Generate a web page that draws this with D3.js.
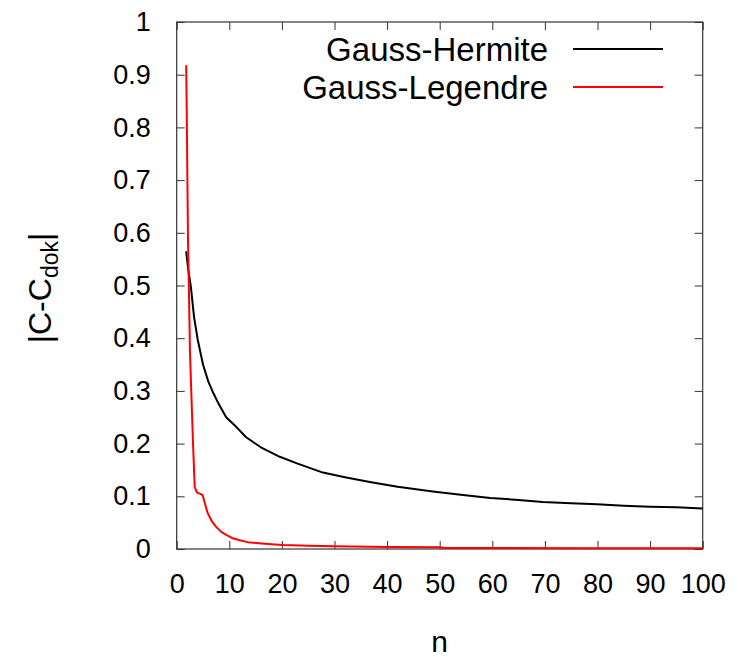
<!DOCTYPE html>
<html>
<head>
<meta charset="utf-8">
<script src="https://cdn.jsdelivr.net/npm/d3@7"></script>
<style>
  body { margin: 0; background: #fff; }
  text { font-family: "Liberation Sans", Arial, sans-serif; fill: #000; }
</style>
</head>
<body>
<div id="chart"></div>
<script>
// Gauss-Hermite error vs n
const hermiteN = [1.8, 2.2, 2.7, 3.3, 4.0, 5, 6, 7, 8, 9.4, 11, 13.2, 16, 19.6, 23, 27.8, 32, 36.7, 42, 48.7, 54, 59.6, 65, 69.6, 75, 79.9, 85, 90, 95, 100];
const hermiteV = [0.565, 0.53, 0.497, 0.44, 0.397, 0.35, 0.318, 0.295, 0.275, 0.25, 0.235, 0.212, 0.193, 0.175, 0.162, 0.145, 0.136, 0.127, 0.118, 0.109, 0.103, 0.097, 0.093, 0.089, 0.087, 0.085, 0.082, 0.080, 0.079, 0.077];

// Gauss-Legendre error vs n
const legendreN = [1.8, 1.9, 2.05, 2.15, 2.53, 2.78, 3.1, 3.42, 3.86, 4.4, 4.94, 5.4, 5.9, 6.6, 7.5, 8.4, 9.4, 10.5, 11.8, 13.5, 15.6, 18, 20.2, 25, 30, 40, 50, 51, 60, 80, 100];
const legendreV = [0.918, 0.839, 0.685, 0.586, 0.372, 0.296, 0.201, 0.118, 0.107, 0.105, 0.102, 0.085, 0.068, 0.054, 0.042, 0.033, 0.027, 0.021, 0.017, 0.013, 0.011, 0.009, 0.0076, 0.006, 0.005, 0.004, 0.0035, 0.002, 0.0018, 0.0015, 0.0012];

const xTicks = [0, 10, 20, 30, 40, 50, 60, 70, 80, 90, 100];
const yTicks = [0, 0.1, 0.2, 0.3, 0.4, 0.5, 0.6, 0.7, 0.8, 0.9, 1];

const seriesNames = ["Gauss-Hermite", "Gauss-Legendre"];
const seriesColors = ["#000000", "#ff0000"];

const width = 738, height = 657;
const margin = { top: 22, right: 35.3, bottom: 108, left: 176.7 };
const innerW = width - margin.left - margin.right;
const innerH = height - margin.top - margin.bottom;

const svg = d3.select("#chart").append("svg")
  .attr("width", width)
  .attr("height", height);

const g = svg.append("g")
  .attr("transform", `translate(${margin.left},${margin.top})`);

const x = d3.scaleLinear().domain([0, 100]).range([0, innerW]);
const y = d3.scaleLinear().domain([0, 1]).range([innerH, 0]);

const tickLen = 8;
const fmtY = (d) => d === 0 || d === 1 ? String(d) : d3.format(".1f")(d);

// Bottom axis (ticks pointing inward)
const xAxisG = g.append("g").attr("transform", `translate(0,${innerH})`)
  .call(d3.axisBottom(x).tickValues(xTicks).tickSize(-tickLen).tickPadding(25).tickFormat(d3.format("d")));
// Top mirror ticks
const xTopG = g.append("g")
  .call(d3.axisTop(x).tickValues(xTicks).tickSize(-tickLen).tickFormat(""));
// Left axis
const yAxisG = g.append("g")
  .call(d3.axisLeft(y).tickValues(yTicks).tickSize(-tickLen).tickPadding(26).tickFormat(fmtY));
// Right mirror ticks
const yRightG = g.append("g").attr("transform", `translate(${innerW},0)`)
  .call(d3.axisRight(y).tickValues(yTicks).tickSize(-tickLen).tickFormat(""));

[xAxisG, xTopG, yAxisG, yRightG].forEach((a) => {
  a.selectAll(".domain").remove();
  a.selectAll(".tick line").attr("stroke", "#333").attr("stroke-width", 1);
  a.selectAll(".tick text")
    .style("font-size", "27px")
    .style("font-family", "'Liberation Sans', Arial, sans-serif")
    .attr("fill", "#000");
});

// Frame
g.append("rect")
  .attr("x", 0).attr("y", 0)
  .attr("width", innerW).attr("height", innerH)
  .attr("fill", "none")
  .attr("stroke", "#333")
  .attr("stroke-width", 1.2);

// Lines
const line = d3.line()
  .x((d) => x(d[0]))
  .y((d) => y(d[1]));

const seriesData = [
  d3.zip(hermiteN, hermiteV),
  d3.zip(legendreN, legendreV)
];

g.append("g").selectAll("path")
  .data(seriesData)
  .join("path")
  .attr("d", line)
  .attr("fill", "none")
  .attr("stroke", (d, i) => seriesColors[i])
  .attr("stroke-width", 2)
  .attr("stroke-linejoin", "round");

// Legend
const legend = g.append("g").attr("transform", `translate(${548 - margin.left},0)`);
seriesNames.forEach((name, i) => {
  const cy = 27 + i * 38;
  legend.append("text")
    .attr("x", 0)
    .attr("y", cy)
    .attr("dy", "0.36em")
    .attr("text-anchor", "end")
    .style("font-size", "33px")
    .text(name);
  legend.append("line")
    .attr("x1", 25).attr("x2", 115)
    .attr("y1", cy).attr("y2", cy)
    .attr("stroke", seriesColors[i])
    .attr("stroke-width", 2);
});

// Axis titles
svg.append("text")
  .attr("x", margin.left + innerW / 2)
  .attr("y", 652)
  .attr("text-anchor", "middle")
  .style("font-size", "30px")
  .text("n");

const yTitle = svg.append("text")
  .attr("transform", `translate(51,288) rotate(-90)`)
  .attr("text-anchor", "middle")
  .style("font-size", "32px");
yTitle.append("tspan").text("|C-C");
yTitle.append("tspan").attr("dy", 7).style("font-size", "23px").text("dok");
yTitle.append("tspan").attr("dy", -7).text("|");
</script>
</body>
</html>
